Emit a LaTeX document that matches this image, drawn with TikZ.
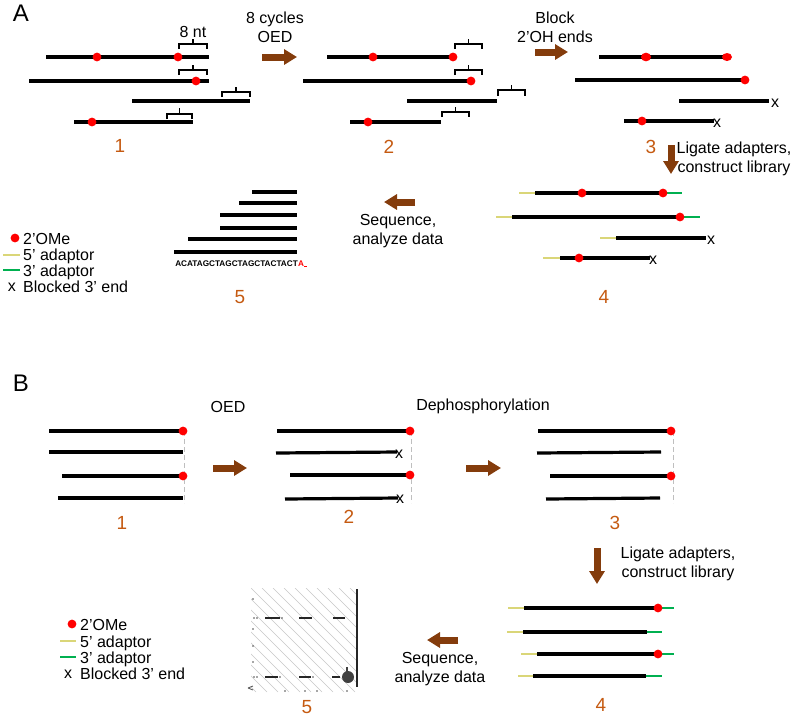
\documentclass[tikz,border=0pt]{standalone}
\usepackage{fontspec}
\setmainfont{Liberation Sans}
\usetikzlibrary{arrows.meta}
\definecolor{brn}{RGB}{132,60,12}
\definecolor{org}{RGB}{197,90,17}
\definecolor{ylw}{RGB}{218,214,120}
\definecolor{grn}{RGB}{0,176,80}
\newcommand\brkt[5]{\draw[brk] (#1,#3) -- (#1,#4) -- (#2,#4) -- (#2,#3);
  \draw[brk] ({(#1+#2)/2},#4) -- ({(#1+#2)/2},#5);}
\newcommand\mdot[2]{\fill[red] (#1,#2) circle (4.4);}
\tikzset{
 strand/.style={line width=3.2pt, black},
 yad/.style={line width=2.8pt, ylw},
 gad/.style={line width=2.8pt, grn},
 brk/.style={line width=1.4pt, black},
 bigarrow/.style={line width=7pt, brn, -{Triangle[length=13pt,width=15pt]}},
 txt/.style={font=\fontsize{16}{19}\selectfont, align=center, inner sep=0pt},
 leg/.style={font=\fontsize{16}{19}\selectfont, inner sep=0pt, anchor=base west},
 num/.style={font=\fontsize{19}{22}\selectfont, text=org, inner sep=0pt},
 panel/.style={font=\fontsize{24}{28}\selectfont, inner sep=0pt},
 xmark/.style={font=\fontsize{16}{18}\selectfont, inner sep=0pt},
 vdash/.style={line width=1pt, black!25, dash pattern=on 5pt off 3pt},
}
\begin{document}
\begin{tikzpicture}[x=1pt,y=-1pt]
\useasboundingbox (0,0) rectangle (800,716);
%% ===================== Panel A =====================
\node[panel] (A) at (21,13) {A};
% step 1
\draw[strand] (46,57) -- (209,57); \mdot{97}{57} \mdot{178}{57}
\draw[strand] (29,81) -- (209,81); \mdot{196}{81}
\draw[strand] (132,101) -- (250,101);
\draw[strand] (74,122) -- (193,122); \mdot{92}{122}
\brkt{179}{207}{49}{44}{39}
\brkt{179}{207}{75}{70}{65}
\brkt{222}{250}{97}{92}{87}
\brkt{167}{192}{119}{114}{108}
\node[txt] (nt) at (193,32) {8 nt};
\node[num] (a1) at (120,146) {1};
% arrow 1->2
\node[txt] (oedA) at (275,27) {8 cycles\\OED};
\coordinate (a12s) at (262,57); \coordinate (a12e) at (297,57);
\draw[bigarrow] (a12s) -- (a12e);
% step 2
\draw[strand] (327,57) -- (453,57); \mdot{373}{57} \mdot{453}{57}
\draw[strand] (303,81) -- (471,81); \mdot{471}{81}
\draw[strand] (407,101) -- (497,101);
\draw[strand] (350,122) -- (441,122); \mdot{368}{122}
\brkt{455}{482}{49}{44}{39}
\brkt{455}{482}{75}{70}{65}
\brkt{498}{525}{96}{90}{85}
\brkt{442}{469}{117}{112}{107}
\node[num] (a2) at (389,147) {2};
% arrow 2->3
\node[txt] (blk) at (555,27) {Block\\2’OH ends};
\coordinate (a23s) at (535,52); \coordinate (a23e) at (568,52);
\draw[bigarrow] (a23s) -- (a23e);
% step 3
\draw[strand] (599,57) -- (727,57);
\fill[red] (646,57) ellipse (5 and 4.3); \fill[red] (727,57) ellipse (5 and 4);
\draw[strand] (575,80) -- (745,80); \mdot{745}{80}
\draw[strand] (679,101) -- (769,101); \node[xmark] (x3a) at (775,103) {x};
\draw[strand] (624,121) -- (714,121); \mdot{642}{121} \node[xmark] (x3b) at (717,123) {x};
\node[num] (a3) at (651,147) {3};
% arrow 3->4
\node[txt] (ligA) at (734,159) {Ligate adapters,\\construct library};
\coordinate (a34s) at (671,145); \coordinate (a34e) at (671,174);
\draw[bigarrow] (a34s) -- (a34e);
% step 4
\draw[yad] (519,193) -- (535,193); \draw[strand] (535,193) -- (663,193); \draw[gad] (663,193) -- (682,193);
\mdot{582}{193} \mdot{663}{193}
\draw[yad] (496,217) -- (512,217); \draw[strand] (512,217) -- (680,217); \draw[gad] (680,217) -- (700,217);
\mdot{680}{217}
\draw[yad] (600,238) -- (616,238); \draw[strand] (616,238) -- (706,238); \node[xmark] (x4a) at (711,240) {x};
\draw[yad] (543,258) -- (560,258); \draw[strand] (560,258) -- (650,258); \mdot{579}{258}
\node[xmark] (x4b) at (653,260) {x};
\node[num] (a4) at (604,297) {4};
% arrow 4->5
\node[txt] (seqA) at (398,231) {Sequence,\\analyze data};
\coordinate (a45s) at (415,202); \coordinate (a45e) at (384,202);
\draw[bigarrow] (a45s) -- (a45e);
% step 5
\draw[strand] (252,192) -- (297,192);
\draw[strand] (239,203) -- (297,203);
\draw[strand] (220,215) -- (297,215);
\draw[strand] (220,228) -- (297,228);
\draw[strand] (188,239) -- (297,239);
\draw[strand] (174,252) -- (297,252);
\node[font=\fontsize{8.2}{9}\selectfont\bfseries, inner sep=0pt, anchor=base east] (seq) at (298,266) {ACATAGCTAGCTAGCTACTACT};
\node[font=\fontsize{8.2}{9}\selectfont\bfseries, inner sep=0pt, anchor=base west, text=red] (seqr) at (298,266) {A};
\draw[red, line width=0.8pt] (304,266) -- (306.5,266);
\node[num] (a5) at (240,297) {5};
% legend A
\fill[red] (15,238) circle (4.4);
\node[leg] (lA1) at (23,244) {2’OMe};
\draw[yad] (3,255) -- (20,255);
\node[leg] (lA2) at (23,260) {5’ adaptor};
\draw[gad] (3,270) -- (20,270);
\node[leg] (lA3) at (23,276) {3’ adaptor};
\node[xmark] (lAx) at (12,287) {x};
\node[leg] (lA4) at (23,292) {Blocked 3’ end};
%% ===================== Panel B =====================
\node[panel] (B) at (21,383) {B};
% step 1
\draw[vdash] (184,431) -- (184,503);
\draw[strand] (49,431) -- (183,431); \mdot{183}{431}
\draw[strand] (49,452) -- (183,452);
\draw[strand] (62,476) -- (183,476); \mdot{183}{476}
\draw[strand] (58,498) -- (183,498);
\node[num] (b1) at (122,523) {1};
% arrow 1->2
\node[txt] (oedB) at (228,407) {OED};
\coordinate (b12s) at (213,468); \coordinate (b12e) at (247,468);
\draw[bigarrow] (b12s) -- (b12e);
% step 2
\draw[vdash] (411,431) -- (411,503);
\draw[strand] (277,431) -- (410,431); \mdot{410}{431}
\draw[strand] (276,453) -- (397,452); \node[xmark] (xb2a) at (399,454) {x};
\draw[strand] (290,475) -- (410,475); \mdot{410}{475}
\draw[strand] (285,499) -- (398,498); \node[xmark] (xb2b) at (400,499) {x};
\node[num] (b2) at (349,517) {2};
% arrow 2->3
\node[txt] (deph) at (483,406) {Dephosphorylation};
\coordinate (b23s) at (466,468); \coordinate (b23e) at (501,468);
\draw[bigarrow] (b23s) -- (b23e);
% step 3
\draw[vdash] (673,431) -- (673,503);
\draw[strand] (538,431) -- (671,431); \mdot{671}{431}
\draw[strand] (537,453) -- (661,452);
\draw[strand] (550,476) -- (671,476); \mdot{671}{476}
\draw[strand] (546,499) -- (660,498);
\node[num] (b3) at (615,523) {3};
% arrow 3->4
\node[txt] (ligB) at (678,564) {Ligate adapters,\\construct library};
\coordinate (b34s) at (597,548); \coordinate (b34e) at (597,584);
\draw[bigarrow] (b34s) -- (b34e);
% step 4
\draw[yad] (508,608) -- (524,608); \draw[strand] (524,608) -- (658,608); \draw[gad] (658,608) -- (674,608); \mdot{658}{608}
\draw[yad] (507,632) -- (523,632); \draw[strand] (523,632) -- (647,632); \draw[gad] (647,632) -- (662,632);
\draw[yad] (521,654) -- (537,654); \draw[strand] (537,654) -- (658,654); \draw[gad] (658,654) -- (674,654); \mdot{658}{654}
\draw[yad] (518,676) -- (533,676); \draw[strand] (533,676) -- (646,676); \draw[gad] (646,676) -- (662,676);
\node[num] (b4) at (601,705) {4};
% arrow 4->5
\node[txt] (seqB) at (440,669) {Sequence,\\analyze data};
\coordinate (b45s) at (458,640); \coordinate (b45e) at (427,640);
\draw[bigarrow] (b45s) -- (b45e);
% step 5 (image fragment)
\begin{scope}
\clip (251,588) rectangle (356,692);
\foreach \k in {-110,-99,...,110} {
  \draw[black!22, line width=0.6pt] (251+\k,588) -- (251+\k+104,692);
}
\end{scope}
\draw[black!85, line width=1.6pt] (265,618) -- (280,618) (299,618) -- (312,618) (333,618) -- (345,618);
\draw[black!85, line width=1.6pt] (265,677) -- (278,677) (299,677) -- (311,677) (332,677) -- (340,677);
\foreach \p in {(254,618),(257,618),(282,618),(254,677),(257,677),(280,677),(313,677),(253,599),(253,629),(253,646),(253,662),(285,691),(305,691),(317,691),(347,691)} {
  \fill[black!70] \p circle (0.8);
}
\draw[black!70, line width=0.8pt] (248,688) -- (253,686) (248,688) -- (253,690);
\draw[black!85, line width=2pt] (357,589) -- (357,687);
\fill[black!75] (348,677) circle (6);
\draw[black!75, line width=1.5pt] (347,667) -- (347,672);
\node[num] (b5) at (307,707) {5};
% legend B
\fill[red] (72,624) circle (4.4);
\node[leg] (lB1) at (80,630) {2’OMe};
\draw[yad] (60,641) -- (76,641);
\node[leg] (lB2) at (80,647) {5’ adaptor};
\draw[gad] (60,657) -- (76,657);
\node[leg] (lB3) at (80,663) {3’ adaptor};
\node[xmark] (lBx) at (68,674) {x};
\node[leg] (lB4) at (80,679) {Blocked 3’ end};
\end{tikzpicture}
\end{document}
